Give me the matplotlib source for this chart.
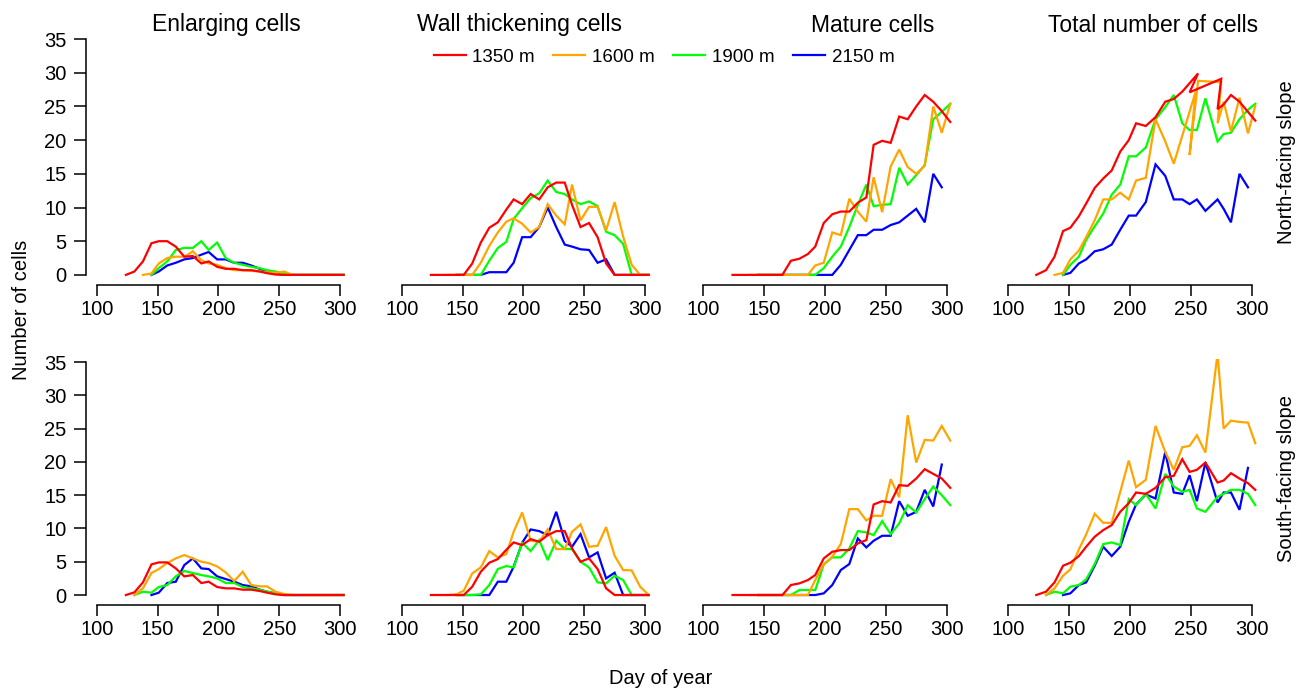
import numpy as np
import matplotlib
matplotlib.use("Agg")
import matplotlib.pyplot as plt
from matplotlib.lines import Line2D

plt.rcParams['font.family'] = ['Liberation Sans', 'DejaVu Sans']

nan = np.nan

# sampling dates (day of year) used for the three cell-type panels
days = [124, 131, 138, 145, 151, 158, 165, 172, 179, 186, 192, 199, 206, 213,
        220, 227, 234, 240, 247, 254, 261, 268, 275, 282, 289, 296, 303]
# dates used in the "total" panels
tot_days = [123, 131, 138, 145, 151, 158, 164, 171, 178, 185, 192, 199, 205, 213,
            221, 229, 236, 243, 249, 255, 262, 272, 277, 283, 290, 297, 303]

altitudes = ['1350 m', '1600 m', '1900 m', '2150 m']
colors = ['#FF0000', '#FFA500', '#00FF00', '#0000FF']

# ---- North-facing slope ----
enl_n_1350 = [0, 0.5, 2.0, 4.7, 5.0, 5.0, 4.2, 2.7, 2.8, 1.7, 2.0, 1.2, 0.9, 0.9, 0.7, 0.7, 0.5, 0.25, 0.05, 0, 0, 0, 0, 0, 0, 0, 0]
enl_n_1600 = [nan, nan, 0, 0.2, 1.7, 2.5, 2.7, 2.7, 3.5, 2.2, 1.7, 1.5, 1.0, 0.7, 0.7, 0.6, 0.5, 0.4, 0.3, 0.5, 0, 0, 0, 0, 0, 0, 0]
enl_n_1900 = [nan, nan, nan, 0, 1.0, 2.0, 3.7, 4.0, 4.0, 5.0, 3.7, 4.8, 2.5, 1.8, 1.5, 1.2, 1.0, 0.7, 0.5, 0.2, 0, 0, 0, 0, 0, 0, 0]
enl_n_2150 = [nan, nan, nan, 0, 0.5, 1.4, 1.8, 2.3, 2.5, 3.0, 3.4, 2.3, 2.3, 1.8, 1.8, 1.4, 0.9, 0.5, 0.2, 0, 0, 0, 0, 0, 0, 0, 0]

wall_n_1350 = [0, 0, 0, 0, 0, 1.7, 4.8, 7.0, 7.8, 9.7, 11.2, 10.5, 12.0, 11.2, 13.0, 13.7, 13.7, 10.4, 7.1, 7.7, 5.6, 1.7, 0, 0, 0, 0, 0]
wall_n_1600 = [nan, nan, 0, 0, 0, 0, 1.8, 4.3, 6.3, 7.9, 8.4, 7.6, 6.3, 7.1, 10.5, 8.8, 7.5, 13.4, 8.1, 10.1, 10.1, 6.6, 10.8, 5.7, 1.5, 0, 0]
wall_n_1900 = [nan, nan, nan, 0, 0, 0, 0, 2.1, 4.0, 4.9, 8.3, 9.9, 11.4, 12.1, 14.0, 12.3, 12.0, 11.2, 10.5, 10.9, 10.2, 6.4, 5.9, 4.6, 0, 0, 0]
wall_n_2150 = [nan, nan, nan, 0, 0, 0, 0, 0.4, 0.4, 0.4, 1.8, 5.6, 5.6, 7.1, 10.0, 7.1, 4.5, 4.2, 3.8, 3.7, 1.8, 2.3, 0, 0, 0, 0, 0]

mat_n_1350 = [0, 0, 0, 0, 0, 0, 0, 2.1, 2.4, 3.1, 4.2, 7.7, 9.0, 9.4, 9.4, 10.7, 11.5, 19.3, 19.9, 19.6, 23.5, 23.1, 25.0, 26.7, 25.7, 24.3, 22.7]
mat_n_1600 = [nan, nan, 0, 0, 0, 0, 0, 0, 0, 0, 1.4, 1.8, 6.3, 5.9, 11.3, 9.4, 7.9, 14.5, 9.3, 16.1, 18.6, 16.0, 15.0, 16.2, 25.0, 21.1, 25.4]
mat_n_1900 = [nan, nan, nan, 0, 0, 0, 0, 0, 0, 0, 0, 1.0, 2.7, 4.2, 7.1, 10.4, 13.4, 10.2, 10.4, 10.5, 15.9, 13.4, 14.8, 16.3, 23.1, 24.2, 25.4]
mat_n_2150 = [nan, nan, nan, 0, 0, 0, 0, 0, 0, 0, 0, 0, 0, 1.5, 3.7, 5.9, 5.9, 6.7, 6.7, 7.4, 7.8, 8.8, 9.8, 7.8, 15.0, 13.0, nan]

tot_n_1350_days = tot_days[:18] + [256, 249, 275, 272, 277, 283, 290, 297, 303]
tot_n_1350 = [0, 0.7, 2.7, 6.5, 7.0, 8.7, 10.6, 12.9, 14.3, 15.5, 18.3, 20.0, 22.5, 22.1, 23.4, 25.7, 26.1, 27.2,
              29.9, 27.1, 29.1, 24.6, 25.3, 26.7, 25.7, 24.2, 22.9]
tot_n_1600_days = tot_days[2:17] + [254, 249, 256, 275, 272, 277, 283, 290, 297, 303]
tot_n_1600 = [0, 0.3, 2.3, 3.6, 5.6, 8.1, 11.2, 11.2, 12.2, 11.2, 14.0, 14.4, 23.1, 19.8, 16.5,
              27.2, 17.8, 28.8, 28.6, 22.5, 25.7, 21.3, 26.3, 21.0, 25.1]
tot_n_1900_days = tot_days[3:]
tot_n_1900 = [0, 1.5, 2.7, 5.2, 7.2, 9.1, 11.9, 13.4, 17.6, 17.6, 18.9, 23.1, 24.9, 26.7, 22.5, 21.5, 21.5,
              26.2, 19.8, 20.9, 21.1, 23.1, 24.5, 25.4]
tot_n_2150_days = tot_days[3:26]
tot_n_2150 = [0, 0.3, 1.7, 2.3, 3.5, 3.8, 4.5, 6.7, 8.8, 8.8, 10.8, 16.4, 14.7, 11.2, 11.2, 10.5, 11.2, 9.5,
              11.2, 9.8, 7.8, 15.0, 13.0]

# ---- South-facing slope ----
enl_s_1350 = [0, 0.4, 1.9, 4.6, 4.9, 4.9, 4.0, 2.8, 3.0, 1.8, 2.0, 1.2, 1.0, 1.0, 0.8, 0.8, 0.6, 0.35, 0.1, 0, 0, 0, 0, 0, 0, 0, 0]
enl_s_1600 = [nan, 0, 1.0, 3.3, 3.9, 4.8, 5.5, 6.0, 5.5, 5.0, 4.8, 4.3, 3.4, 2.1, 3.5, 1.5, 1.3, 1.3, 0.5, 0.15, 0, 0, 0, 0, 0, 0, 0]
enl_s_1900 = [nan, 0, 0.5, 0.35, 1.2, 1.5, 2.8, 3.6, 3.3, 3.0, 2.8, 2.5, 1.8, 1.8, 1.2, 1.0, 0.8, 0.5, 0.25, 0, 0, 0, 0, 0, 0, 0, 0]
enl_s_2150 = [nan, nan, nan, 0, 0.35, 1.8, 2.0, 4.5, 5.5, 4.0, 3.9, 2.8, 2.4, 2.0, 1.5, 1.3, 0.8, 0.5, 0.25, 0, 0, 0, 0, 0, 0, 0, 0]

wall_s_1350 = [0, 0, 0, 0, 0, 1.25, 3.5, 4.85, 5.4, 6.8, 7.9, 7.5, 8.4, 8.0, 9.0, 9.6, 9.6, 7.0, 5.0, 5.5, 3.9, 1.0, 0, 0, 0, 0, 0]
wall_s_1600 = [nan, nan, 0, 0.1, 0.65, 3.25, 4.15, 6.6, 5.65, 6.15, 9.5, 12.4, 8.15, 8.0, 9.85, 6.9, 6.9, 9.5, 10.6, 7.25, 7.4, 10.2, 5.9, 3.75, 3.7, 1.25, 0]
wall_s_1900 = [nan, nan, nan, 0, 0, 0, 0.1, 1.5, 3.9, 4.35, 4.15, 7.85, 6.6, 8.25, 5.25, 8.15, 6.9, 6.9, 5.0, 4.15, 1.9, 1.75, 2.9, 2.25, 0, 0, 0]
wall_s_2150 = [nan, nan, nan, 0, 0, 0, 0, 0, 2.0, 2.0, 4.25, 7.85, 9.85, 9.6, 9.0, 12.5, 8.15, 7.25, 9.15, 5.65, 6.4, 2.5, 3.35, 0, 0, 0, 0]

mat_s_1350 = [0, 0, 0, 0, 0, 0, 0, 1.5, 1.75, 2.25, 3.0, 5.5, 6.5, 6.75, 6.75, 7.75, 8.25, 13.6, 14.1, 13.9, 16.5, 16.4, 17.5, 18.9, 18.2, 17.5, 16.1]
mat_s_1600 = [nan, nan, 0, 0, 0, 0, 0, 0, 0, 0, 2.25, 4.6, 5.75, 7.65, 12.9, 12.9, 11.2, 11.9, 11.9, 17.4, 14.7, 27.0, 19.9, 23.3, 23.2, 25.4, 23.2]
mat_s_1900 = [nan, nan, nan, 0, 0, 0, 0, 0, 0.75, 0.75, 0.75, 4.6, 5.65, 5.65, 7.0, 9.6, 9.4, 9.0, 11.1, 9.15, 10.75, 13.5, 12.4, 14.4, 16.3, 15.0, 13.5]
mat_s_2150 = [nan, nan, nan, 0, 0, 0, 0, 0, 0, 0, 0, 0.25, 1.5, 3.75, 4.65, 8.5, 7.15, 8.15, 8.9, 8.9, 14.1, 11.9, 12.5, 15.8, 13.3, 19.6, nan]

tot_s_1350 = [0, 0.5, 1.9, 4.4, 4.85, 5.85, 7.25, 8.75, 9.75, 10.5, 12.5, 13.8, 15.4, 15.2, 16.1, 17.7, 17.9,
              20.4, 18.5, 18.8, 19.9, 16.9, 17.2, 18.3, 17.5, 16.8, 15.8]
tot_s_1600 = [0, 1.0, 2.9, 3.85, 6.85, 9.1, 12.2, 10.85, 10.85, 15.5, 20.2, 16.2, 17.3, 25.4, 21.5, 18.8, 22.2,
              22.4, 24.0, 21.4, 36.3, 25.0, 26.2, 26.0, 25.9, 22.8]
tot_s_1900 = [0, 0.5, 0.25, 1.25, 1.5, 2.35, 4.65, 7.65, 7.9, 7.5, 14.4, 13.5, 15.2, 13.0, 18.2, 16.3, 15.5,
              15.8, 13.0, 12.5, 14.75, 15.2, 15.8, 15.8, 15.2, 13.5]
tot_s_2150 = [0, 0.25, 1.5, 1.9, 4.4, 7.25, 5.85, 7.25, 11.0, 13.6, 15.1, 14.5, 21.5, 15.4, 15.2, 18.0, 14.1,
              19.9, 13.9, 15.4, 15.4, 12.8, 19.1]

north = [
    [(days, enl_n_1350), (days, enl_n_1600), (days, enl_n_1900), (days, enl_n_2150)],
    [(days, wall_n_1350), (days, wall_n_1600), (days, wall_n_1900), (days, wall_n_2150)],
    [(days, mat_n_1350), (days, mat_n_1600), (days, mat_n_1900), (days, mat_n_2150)],
    [(tot_n_1350_days, tot_n_1350), (tot_n_1600_days, tot_n_1600),
     (tot_n_1900_days, tot_n_1900), (tot_n_2150_days, tot_n_2150)],
]
south = [
    [(days, enl_s_1350), (days, enl_s_1600), (days, enl_s_1900), (days, enl_s_2150)],
    [(days, wall_s_1350), (days, wall_s_1600), (days, wall_s_1900), (days, wall_s_2150)],
    [(days, mat_s_1350), (days, mat_s_1600), (days, mat_s_1900), (days, mat_s_2150)],
    [(tot_days, tot_s_1350), (tot_days[1:], tot_s_1600), (tot_days[1:], tot_s_1900), (tot_days[3:26], tot_s_2150)],
]

titles = ['Enlarging cells', 'Wall thickening cells', 'Mature cells', 'Total number of cells']

W, H = 1298, 689
fig = plt.figure(figsize=(W / 100, H / 100), dpi=100)

col_left = [86.0, 391.0, 692.6, 997.6]   # pixel positions of the axes
ax_w = 266.2
rows = [(285, 35.7), (605, 358.7)]        # (bottom, top) pixels


def draw_panel(ax, series, first_col):
    # blue first so red ends up on top
    for (x, y), c in reversed(list(zip(series, colors))):
        ax.plot(x, y, color=c, lw=1.6, solid_joinstyle='miter')
    ax.set_xlim(91.2, 310)
    ax.set_ylim(-1.5, 35.5)
    for s in ['top', 'right']:
        ax.spines[s].set_visible(False)
    ax.spines['bottom'].set_bounds(100, 300)
    ax.set_xticks([100, 150, 200, 250, 300])
    ax.tick_params(axis='both', direction='out', length=8, width=1.1, labelsize=14.5, pad=3)
    ax.tick_params(axis='y', length=9, pad=5)
    ax.spines['bottom'].set_linewidth(1.1)
    if first_col:
        ax.spines['left'].set_bounds(0, 35)
        ax.spines['left'].set_linewidth(1.1)
        ax.set_yticks([0, 5, 10, 15, 20, 25, 30, 35])
    else:
        ax.spines['left'].set_visible(False)
        ax.set_yticks([])
    ax.patch.set_visible(False)


for r, data in enumerate([north, south]):
    bot, top = rows[r]
    for c in range(4):
        ax = fig.add_axes([col_left[c] / W, 1 - bot / H, ax_w / W, (bot - top) / H])
        draw_panel(ax, data[c], c == 0)

title_x = [226, 519.5, 872.5, 1153.5]
for t, x in zip(titles, title_x):
    fig.text(x / W, 1 - 25 / H, t, ha='center', va='center', fontsize=16.5)

handles = [Line2D([0], [0], color=c, lw=1.6) for c in colors]
fig.legend(handles, altitudes, loc='center', bbox_to_anchor=(664 / W, 1 - 57 / H), ncol=4,
           frameon=False, fontsize=13.5, handlelength=1.7, handletextpad=0.35, columnspacing=1.0)

fig.text(22 / W, 1 - 310 / H, 'Number of cells', rotation=90, ha='center', va='center', fontsize=14.5)
fig.text(1287 / W, 1 - 162 / H, 'North-facing slope', rotation=90, ha='center', va='center', fontsize=14.5)
fig.text(1287 / W, 1 - 478 / H, 'South-facing slope', rotation=90, ha='center', va='center', fontsize=14.5)
fig.text(661 / W, 1 - 679 / H, 'Day of year', ha='center', va='center', fontsize=14.5)

fig.savefig('out.png', dpi=100)
